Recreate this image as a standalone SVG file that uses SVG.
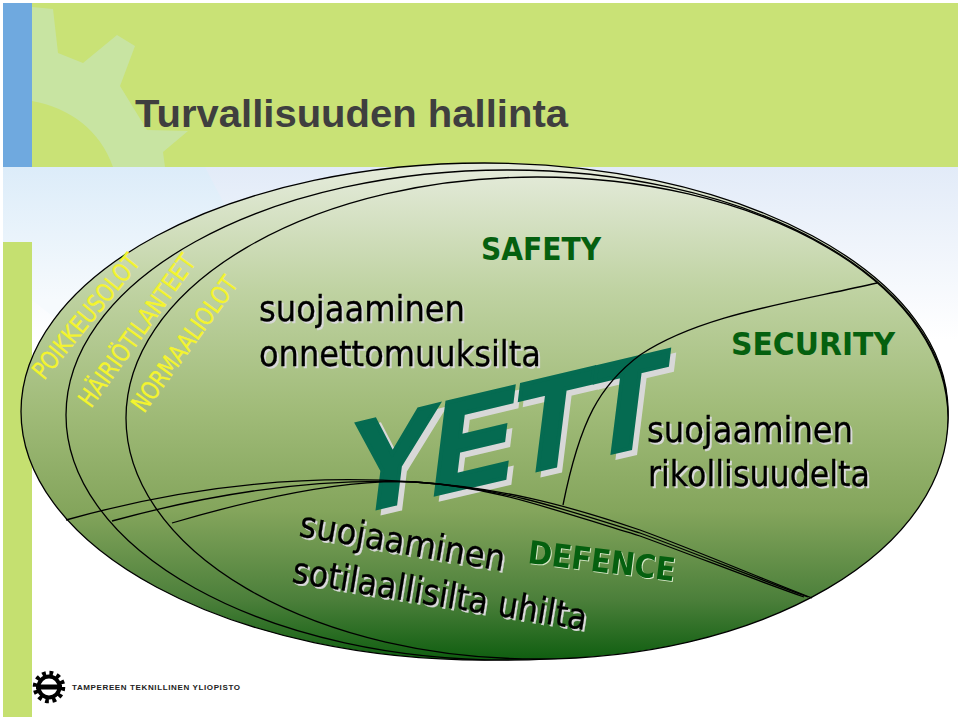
<svg xmlns="http://www.w3.org/2000/svg" width="960" height="720" viewBox="0 0 960 720">
<defs>
<linearGradient id="sky" gradientUnits="userSpaceOnUse" x1="0" y1="167" x2="0" y2="340"><stop offset="0" stop-color="#e2ebf8"/><stop offset="1" stop-color="#ffffff"/></linearGradient>
<linearGradient id="skyleft" gradientUnits="userSpaceOnUse" x1="0" y1="167" x2="0" y2="300"><stop offset="0" stop-color="#dcecf9"/><stop offset="1" stop-color="#f6fafd"/></linearGradient>
<linearGradient id="oval" gradientUnits="userSpaceOnUse" x1="0" y1="163" x2="0" y2="660"><stop offset="0" stop-color="#e6ecdd"/><stop offset="0.25" stop-color="#c0d3a3"/><stop offset="0.5" stop-color="#a0bb78"/><stop offset="0.7" stop-color="#84a55c"/><stop offset="0.88" stop-color="#4b7f3a"/><stop offset="1" stop-color="#0f5e10"/></linearGradient>
</defs>
<style>
.oval{fill:url(#oval);stroke:#000;stroke-width:1.300}
.arc{fill:none;stroke:#000;stroke-width:1.300}
.body{font-family:"DejaVu Sans",sans-serif;font-size:36px;stroke:#000;stroke-width:0.300}
.head{font-family:"DejaVu Sans",sans-serif;font-weight:bold;font-size:32px;fill:#05600f}
.state{font-family:"DejaVu Sans",sans-serif;font-size:25px;fill:#f4f42e;stroke:#f4f42e;stroke-width:0.300}
.yett{font-family:"Liberation Sans",sans-serif;font-weight:bold;font-style:italic;font-size:126px;fill:#056b51;stroke:#056b51;stroke-width:4px}
.sh2{filter:drop-shadow(2px 2px 0 #d8d8d8)}
.sh1{filter:drop-shadow(1px 1px 0 #d8e8c8)}
.sh5{filter:drop-shadow(5px 5px 0 #d8d8d8)}
</style>
<rect width="960" height="720" fill="#fff"/>
<g id="background">
<rect x="3" y="167" width="955" height="175" fill="url(#sky)"/>
<path d="M3 167H205L230 215L70 330L32 300V242H3Z" fill="url(#skyleft)"/>
<rect x="32" y="3" width="926" height="164" fill="#c9e276"/>
<rect x="3" y="3" width="29" height="164" fill="#6fa9df"/>
<rect x="3" y="242" width="29" height="475" fill="#c5e070"/>
<path d="M32 7L53 9L58 53L83 63L117 35L135 46L120 86L147 130L188 131L163 152L165 167H113C100 130 70 108 32 101Z" fill="#c8e4a2"/>
</g>
<text id="title" x="135" y="127" font-family="Liberation Sans,sans-serif" font-weight="bold" fill="#3f3f3f" textLength="433" lengthAdjust="spacingAndGlyphs" style="font-size:39px">Turvallisuuden hallinta</text>
<g id="ovals">
<ellipse id="poikkeus" class="oval" cx="484.500" cy="411.500" rx="463.500" ry="248.500"/>
<ellipse id="hairio" class="oval" cx="507" cy="415" rx="441" ry="245"/>
<ellipse id="normaali" class="oval" cx="537" cy="418" rx="411" ry="241"/>
</g>
<g id="yett" class="sh5">
<text class="yett" transform="translate(352 514) rotate(-13.300) skewX(-10)">YETT</text>
</g>
<g id="connectors">
<path class="arc" d="M66 520C180 488 300 474 415 482C500 488 560 503 640 530C700 552 760 578 812 598"/>
<path class="arc" d="M112 521C200 497 300 478 415 482C500 488 555 506 640 533C700 555 755 578 808 597"/>
<path class="arc" d="M172 523C240 503 340 478 415 482C495 487 550 509 640 536C700 558 750 578 804 597"/>
<path class="arc" d="M563 505C580 420 600 385 640 355C700 315 790 303 877 283"/>
</g>
<g id="labels">
<text class="state" transform="translate(44 381) rotate(-50.600)" textLength="153" lengthAdjust="spacingAndGlyphs">POIKKEUSOLOT</text>
<text class="state" transform="translate(91 409) rotate(-54.200)" textLength="181" lengthAdjust="spacingAndGlyphs">HÄIRIÖTILANTEET</text>
<text class="state" transform="translate(144 414) rotate(-53.800)" textLength="161" lengthAdjust="spacingAndGlyphs">NORMAALIOLOT</text>
<text class="head" x="481" y="260" textLength="120" lengthAdjust="spacingAndGlyphs">SAFETY</text>
<text class="head" x="731" y="355" textLength="164" lengthAdjust="spacingAndGlyphs">SECURITY</text>
<g class="sh1"><text class="head" transform="translate(527 563) rotate(7)" textLength="148" lengthAdjust="spacingAndGlyphs">DEFENCE</text></g>
<g class="sh2">
<text class="body" x="259" y="321" textLength="206" lengthAdjust="spacingAndGlyphs">suojaaminen</text>
<text class="body" x="259" y="366" textLength="282" lengthAdjust="spacingAndGlyphs">onnettomuuksilta</text>
<text class="body" x="647" y="442" textLength="206" lengthAdjust="spacingAndGlyphs">suojaaminen</text>
<text class="body" x="648" y="486" textLength="222" lengthAdjust="spacingAndGlyphs">rikollisuudelta</text>
<text class="body" transform="translate(298 536) rotate(9.700)" textLength="208" lengthAdjust="spacingAndGlyphs">suojaaminen</text>
<text class="body" transform="translate(291 582) rotate(9.300)" textLength="298" lengthAdjust="spacingAndGlyphs">sotilaallisilta uhilta</text>
</g>
</g>
<g id="logo">
<circle cx="49" cy="687" r="13.500" fill="none" stroke="#000" stroke-width="5.500" stroke-dasharray="3.600 3.470"/>
<circle cx="49" cy="687" r="10.500" fill="#fff" stroke="#000" stroke-width="4"/>
<rect x="36" y="684.500" width="26" height="5" fill="#000"/>
<text x="72" y="690" font-family="Liberation Sans,sans-serif" font-weight="bold" font-size="8" fill="#222" textLength="168">TAMPEREEN TEKNILLINEN YLIOPISTO</text>
</g>
</svg>
